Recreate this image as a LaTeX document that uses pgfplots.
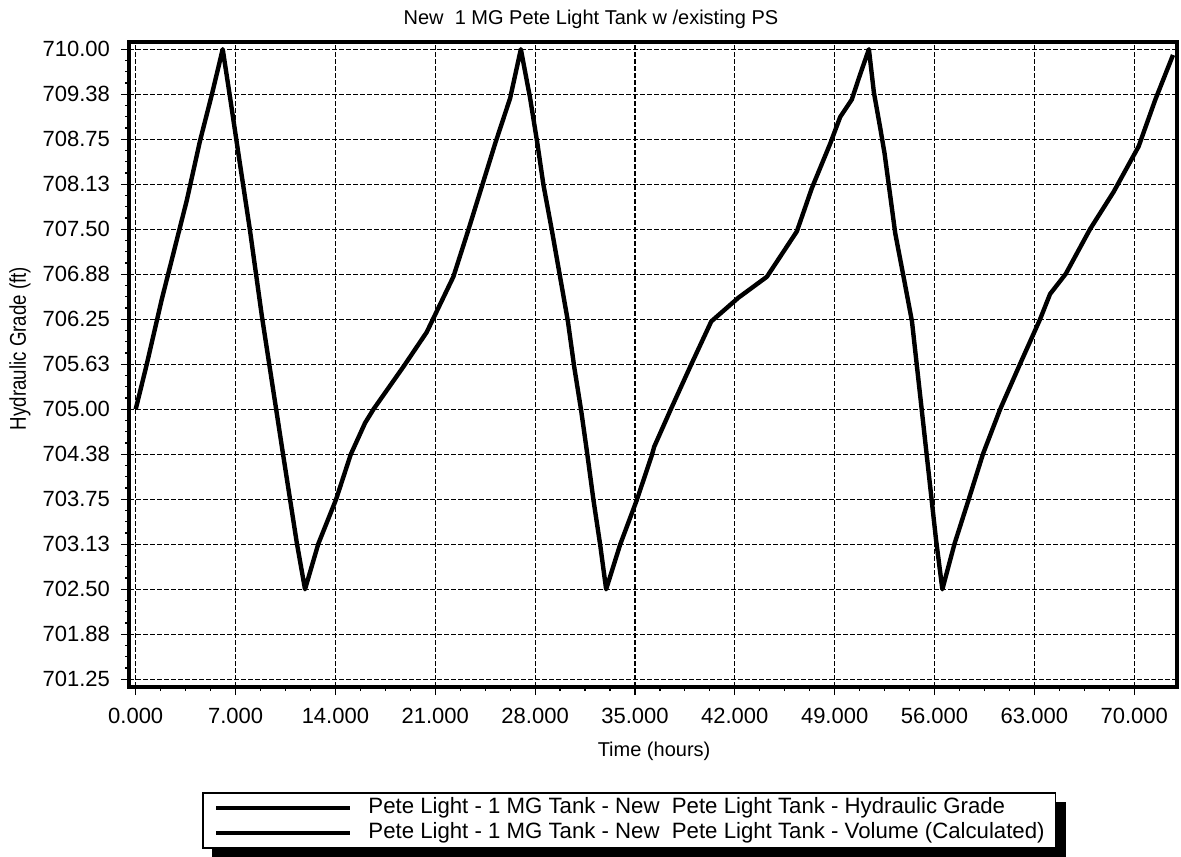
\documentclass[border=0pt]{standalone}
\usepackage{fontspec}
\setmainfont{Liberation Sans}
\newfontfamily\narrowfont[FakeStretch=0.82]{Liberation Sans}
\usepackage{pgfplots}
\pgfplotsset{compat=1.18}
\usetikzlibrary{backgrounds}

\begin{document}
\begin{tikzpicture}
\useasboundingbox (0,0) rectangle (590.5pt,428pt);
\begin{axis}[
  at={(64.5pt,84.5pt)}, anchor=south west,
  scale only axis, width=524pt, height=322.5pt,
  xmin=-0.47, xmax=73.0, ymin=701.143, ymax=710.10,
  xtick={0,7,14,21,28,35,42,49,56,63,70},
  xticklabels={0.000,7.000,14.000,21.000,28.000,35.000,42.000,49.000,56.000,63.000,70.000},
  ytick={701.25,701.875,702.5,703.125,703.75,704.375,705,705.625,706.25,706.875,707.5,708.125,708.75,709.375,710},
  yticklabels={701.25,701.88,702.50,703.13,703.75,704.38,705.00,705.63,706.25,706.88,707.50,708.13,708.75,709.38,710.00},
  /pgf/number format/assume math mode=true,
  minor x tick num=3, minor y tick num=3,
  tick pos=left, tick align=outside,
  major tick length=4pt, minor tick length=2pt,
  tick style={black, line width=0.6pt},
  grid=major,
  major grid style={black, line width=0.6pt, dash pattern=on 2.5pt off 1pt},
  axis line style={line width=1.6pt},
  xticklabel style={font=\fontsize{11}{13}\selectfont, yshift=-3pt},
  yticklabel style={font=\fontsize{11}{13}\selectfont, xshift=-2pt},
  title={New\ \ 1 MG Pete Light Tank w /existing PS},
  every axis title shift=0pt,
  title style={at={(axis description cs:0.4408,1.0264)}, anchor=base, font=\fontsize{10}{12}\selectfont},
  xlabel={Time (hours)},
  xlabel style={at={(axis description cs:0.501,-0.107)}, anchor=base, font=\fontsize{10}{12}\selectfont},
  ylabel={Hydraulic Grade (ft)},
  ylabel style={at={(axis description cs:-0.0985,0.5248)}, anchor=base, font=\narrowfont\fontsize{11.4}{13}\selectfont},
  legend image code/.code={\draw[black, line width=2.3pt] (0pt,0pt) -- (67pt,0pt);},
  legend style={at={(axis description cs:0.0697,-0.1628)}, anchor=north west,
    name=lgd,
    draw=black, line width=0.8pt, fill=white,
    font=\fontsize{11.1}{12}\selectfont,
    inner xsep=5.5pt, inner ysep=1.25pt, column sep=8pt,
    nodes={inner sep=0pt, text height=9pt, text depth=3.5pt}},
  legend cell align=left,
]
\addplot[black, line width=2.2pt, line join=round] coordinates {
(0,705.0) (0.77,705.62) (1.82,706.52) (3.58,707.9) (4.5,708.72) (5.35,709.38) (6.1,710.0)
(6.6,709.35) (7.2,708.55) (8.0,707.5) (8.84,706.3) (10.31,704.4) (11.29,703.15) (11.87,702.5)
(12.8,703.13) (14.05,703.75) (15.07,704.37) (16.08,704.81) (16.67,705.0) (18.8,705.6) (20.4,706.07)
(22.27,706.84) (23.32,707.49) (24.26,708.09) (25.2,708.69) (26.25,709.32) (27.0,710.0)
(27.65,709.32) (28.16,708.69) (28.58,708.12) (29.17,707.49) (29.75,706.84) (30.3,706.22)
(30.74,705.59) (31.23,704.98) (31.67,704.36) (32.09,703.74) (32.56,703.12) (32.98,702.5)
(33.96,703.12) (35.13,703.74) (36.18,704.36) (36.35,704.48) (37.47,704.98) (38.87,705.59)
(40.35,706.22) (42.26,706.55) (44.25,706.84) (46.35,707.47) (47.4,708.07) (48.69,708.69)
(49.39,709.06) (50.2,709.3) (50.7,709.6) (51.4,710.0)
(51.75,709.4) (52.2,708.9) (52.5,708.55) (53.25,707.44) (53.83,706.84) (54.42,706.22)
(55.0,705.18) (55.6,704.1) (56.1,703.2) (56.55,702.5)
(57.4,703.13) (58.4,703.75) (59.4,704.38) (60.6,705.0) (62.0,705.63) (63.4,706.25) (64.1,706.6)
(65.2,706.88) (66.9,707.5) (68.56,708.02) (70.31,708.65) (71.48,709.3) (72.72,709.92)
};
\addlegendentry{Pete Light - 1 MG Tank - New\ \ Pete Light Tank - Hydraulic Grade}
\addlegendimage{black, line width=2.3pt}
\addlegendentry{Pete Light - 1 MG Tank - New\ \ Pete Light Tank - Volume (Calculated)}
\end{axis}
\begin{scope}[on background layer]
\fill[black] ([xshift=5pt,yshift=-5pt]lgd.south west) rectangle ([xshift=5pt,yshift=-5pt]lgd.north east);
\end{scope}
\end{tikzpicture}
\end{document}
